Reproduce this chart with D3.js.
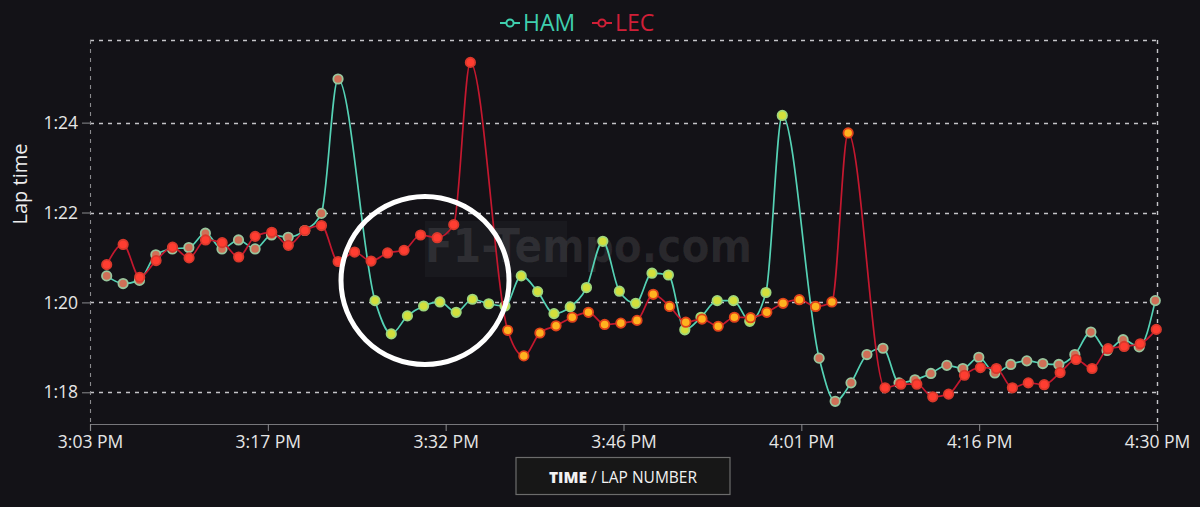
<!DOCTYPE html>
<html>
<head>
<meta charset="utf-8">
<script src="https://cdn.jsdelivr.net/npm/d3@7/dist/d3.min.js"></script>
<style>
  html, body { margin: 0; padding: 0; background: #131217; }
  svg { display: block; }
</style>
</head>
<body>
<svg id="chart" width="1200" height="507"></svg>
<script>
// ---------------- DATA ----------------
const drivers = ["HAM", "LEC"];
const xTickLabels = ["3:03 PM", "3:17 PM", "3:32 PM", "3:46 PM", "4:01 PM", "4:16 PM", "4:30 PM"];
const yTickValues = [78, 80, 82, 84];

// lap times (seconds) of the plotted laps, in order
const hamLapTimes = [
  80.59, 80.42, 80.49, 81.06, 81.19, 81.22, 81.54, 81.19, 81.39, 81.19,
  81.50, 81.45, 81.60, 81.98, 84.97,
  80.04, 79.30, 79.70, 79.92, 80.01, 79.78, 80.07, 79.97, 79.92, 80.59,
  80.24, 79.75, 79.90, 80.33, 81.36, 80.25, 79.98, 80.65, 80.61, 79.39,
  79.67, 80.04, 80.04, 79.58, 80.22, 84.16,
  78.76, 77.80, 78.21, 78.84, 78.98, 78.21, 78.28, 78.42, 78.60, 78.53,
  78.78, 78.43, 78.62, 78.70, 78.64, 78.62, 78.84, 79.34, 78.93, 79.17,
  79.01, 80.04
];
const lecLapTimes = [
  80.84, 81.29, 80.56, 80.93, 81.23, 80.99, 81.39, 81.33, 81.01, 81.47,
  81.56, 81.27, 81.60, 81.71, 80.91, 81.12, 80.92, 81.10, 81.16, 81.50,
  81.44, 81.73, 85.34,
  79.38, 78.81, 79.32, 79.48, 79.67, 79.78, 79.51, 79.54, 79.60, 80.18,
  79.91, 79.56, 79.63, 79.47, 79.67, 79.66, 79.78, 79.98, 80.06, 79.91,
  80.01, 83.77,
  78.10, 78.18, 78.18, 77.90, 77.96, 78.38, 78.55, 78.53, 78.10, 78.21,
  78.17, 78.44, 78.73, 78.53, 78.97, 79.02, 79.08, 79.40
];
// number of plotted laps in each stint (pit lap is the last one of a stint)
const hamStintLengths = [15, 26, 22];
const lecStintLengths = [23, 22, 18];
const hamCompounds = ["SOFT", "MEDIUM", "SOFT"];
const lecCompounds = ["SOFT", "MEDIUM", "SOFT"];
// pit out-laps (not plotted), seconds
const hamOutLaps = [96.6, 97.0];
const lecOutLaps = [98.1, 97.4];

// time axis (seconds from 3:03 PM)
const timeSpan = 5243;
const firstLapStart = 82;

// ---------------- STYLE ----------------
const W = 1200, H = 507;
const M = { left: 90, right: 1157, top: 40, bottom: 424 };
const lineColor = { HAM: "#55d2b5", LEC: "#c4182f" };
const legendColor = { HAM: "#3fcfae", LEC: "#d01f37" };
const markerStyle = {
  HAM: { SOFT: { fill: "#cf6f57", stroke: "#98c59d" }, MEDIUM: { fill: "#d3df3c", stroke: "#9fd77d" } },
  LEC: { SOFT: { fill: "#ff3d31", stroke: "#d9392c" }, MEDIUM: { fill: "#ffb21f", stroke: "#e0431b" } }
};
const font = "'Open Sans', 'Noto Sans', sans-serif";

function buildSeries(times, stintLengths, compounds, outLaps) {
  const pts = [];
  let t = firstLapStart, stint = 0, inStint = 0;
  times.forEach((v, i) => {
    pts.push({ t, v, compound: compounds[stint] });
    t += v;
    inStint++;
    if (inStint === stintLengths[stint] && stint < outLaps.length) {
      t += outLaps[stint];
      stint++; inStint = 0;
    }
  });
  return pts;
}
const series = {
  HAM: buildSeries(hamLapTimes, hamStintLengths, hamCompounds, hamOutLaps),
  LEC: buildSeries(lecLapTimes, lecStintLengths, lecCompounds, lecOutLaps)
};

const svg = d3.select("#chart");
svg.append("rect").attr("width", W).attr("height", H).attr("fill", "#131217");

const x = d3.scaleLinear().domain([0, timeSpan]).range([M.left, M.right]);
const y = d3.scaleLinear().domain([77.295, 85.838]).range([M.bottom, M.top]);

const fmtLap = s => {
  const m = Math.floor(s / 60), sec = Math.round(s - m * 60);
  return m + ":" + String(sec).padStart(2, "0");
};

// watermark
const wm = svg.append("g");
wm.append("rect").attr("x", 425).attr("y", 221).attr("width", 142).attr("height", 56)
  .attr("fill", "#19191e");
wm.append("text").attr("x", 425).attr("y", 262).attr("textLength", 327).attr("lengthAdjust", "spacingAndGlyphs")
  .attr("font-family", "'DejaVu Sans', sans-serif").attr("font-weight", "bold").attr("font-size", 46)
  .attr("fill", "#ffffff").attr("fill-opacity", 0.09).text("F1-Tempo.com");

// grid lines
const grid = svg.append("g").attr("stroke", "#c4c4c8").attr("stroke-width", 1.4).attr("stroke-dasharray", "4,5");
[...yTickValues].forEach(v => {
  grid.append("line").attr("x1", M.left).attr("x2", M.right).attr("y1", Math.round(y(v)) + 0.5).attr("y2", Math.round(y(v)) + 0.5);
});
grid.append("line").attr("x1", M.left).attr("x2", M.right).attr("y1", M.top + 0.5).attr("y2", M.top + 0.5);
grid.append("line").attr("x1", M.right + 0.5).attr("x2", M.right + 0.5).attr("y1", M.top).attr("y2", M.bottom);
grid.append("line").attr("x1", M.left + 0.5).attr("x2", M.left + 0.5).attr("y1", M.top).attr("y2", M.bottom)
  .attr("stroke", "#8a8a8e").attr("stroke-width", 1.1);

// y axis
const yAxis = d3.axisLeft(y).tickValues(yTickValues).tickFormat(fmtLap).tickSize(8).tickPadding(4);
const gy = svg.append("g").attr("transform", `translate(${M.left},0)`).call(yAxis);
gy.select(".domain").remove();
gy.selectAll(".tick line").attr("stroke", "#8a8a8e");
gy.selectAll(".tick text").attr("fill", "#e6e6e6").attr("font-size", 17.5).attr("font-family", font);

// x axis
const xTickValues = xTickLabels.map((_, i) => i * timeSpan / (xTickLabels.length - 1));
const xAxis = d3.axisBottom(x).tickValues(xTickValues).tickFormat((d, i) => xTickLabels[i]).tickSize(7).tickPadding(5);
const gx = svg.append("g").attr("transform", `translate(0,${M.bottom})`).call(xAxis);
gx.select(".domain").attr("stroke", "#77777b").attr("stroke-width", 1.2);
gx.selectAll(".tick line").attr("stroke", "#8a8a8e");
gx.selectAll(".tick text").attr("fill", "#e6e6e6").attr("font-size", 17.5).attr("font-family", font);

// y label
svg.append("text").attr("transform", "translate(27,184) rotate(-90)").attr("text-anchor", "middle")
  .attr("font-family", font).attr("font-size", 20).attr("fill", "#ededed").text("Lap time");

// lines + markers
const line = d3.line().x(d => x(d.t)).y(d => y(d.v)).curve(d3.curveMonotoneX);
drivers.forEach(dr => {
  const g = svg.append("g");
  g.append("path").datum(series[dr]).attr("d", line).attr("fill", "none")
    .attr("stroke", lineColor[dr]).attr("stroke-width", 1.7);
  g.selectAll("circle").data(series[dr]).join("circle")
    .attr("cx", d => x(d.t)).attr("cy", d => y(d.v)).attr("r", 4.7)
    .attr("fill", d => markerStyle[dr][d.compound].fill)
    .attr("stroke", d => markerStyle[dr][d.compound].stroke)
    .attr("stroke-width", 1.8);
});

// legend
const legend = svg.append("g");
const legendPos = { HAM: 500, LEC: 592 };
drivers.forEach(dr => {
  const lx = legendPos[dr];
  legend.append("line").attr("x1", lx).attr("x2", lx + 20).attr("y1", 23).attr("y2", 23)
    .attr("stroke", legendColor[dr]).attr("stroke-width", 2);
  legend.append("circle").attr("cx", lx + 10).attr("cy", 23).attr("r", 3.6)
    .attr("fill", "#131217").attr("stroke", legendColor[dr]).attr("stroke-width", 2);
  legend.append("text").attr("x", lx + 23).attr("y", 31).attr("font-family", font)
    .attr("font-size", 23).attr("fill", legendColor[dr]).text(dr);
});

// annotation circle
svg.append("circle").attr("cx", 425).attr("cy", 280.5).attr("r", 84)
  .attr("fill", "none").attr("stroke", "#ffffff").attr("stroke-width", 5);

// toggle box
const tb = svg.append("g");
tb.append("rect").attr("x", 516).attr("y", 457.5).attr("width", 214).attr("height", 37)
  .attr("fill", "#171717").attr("stroke", "#6c6c6c").attr("stroke-width", 1.2);
const tt = tb.append("text").attr("x", 623).attr("y", 483).attr("text-anchor", "middle")
  .attr("font-family", font).attr("font-size", 15.5).attr("fill", "#f2f2f2");
tt.append("tspan").attr("font-weight", 800).text("TIME");
tt.append("tspan").text(" / LAP NUMBER");
</script>
</body>
</html>
